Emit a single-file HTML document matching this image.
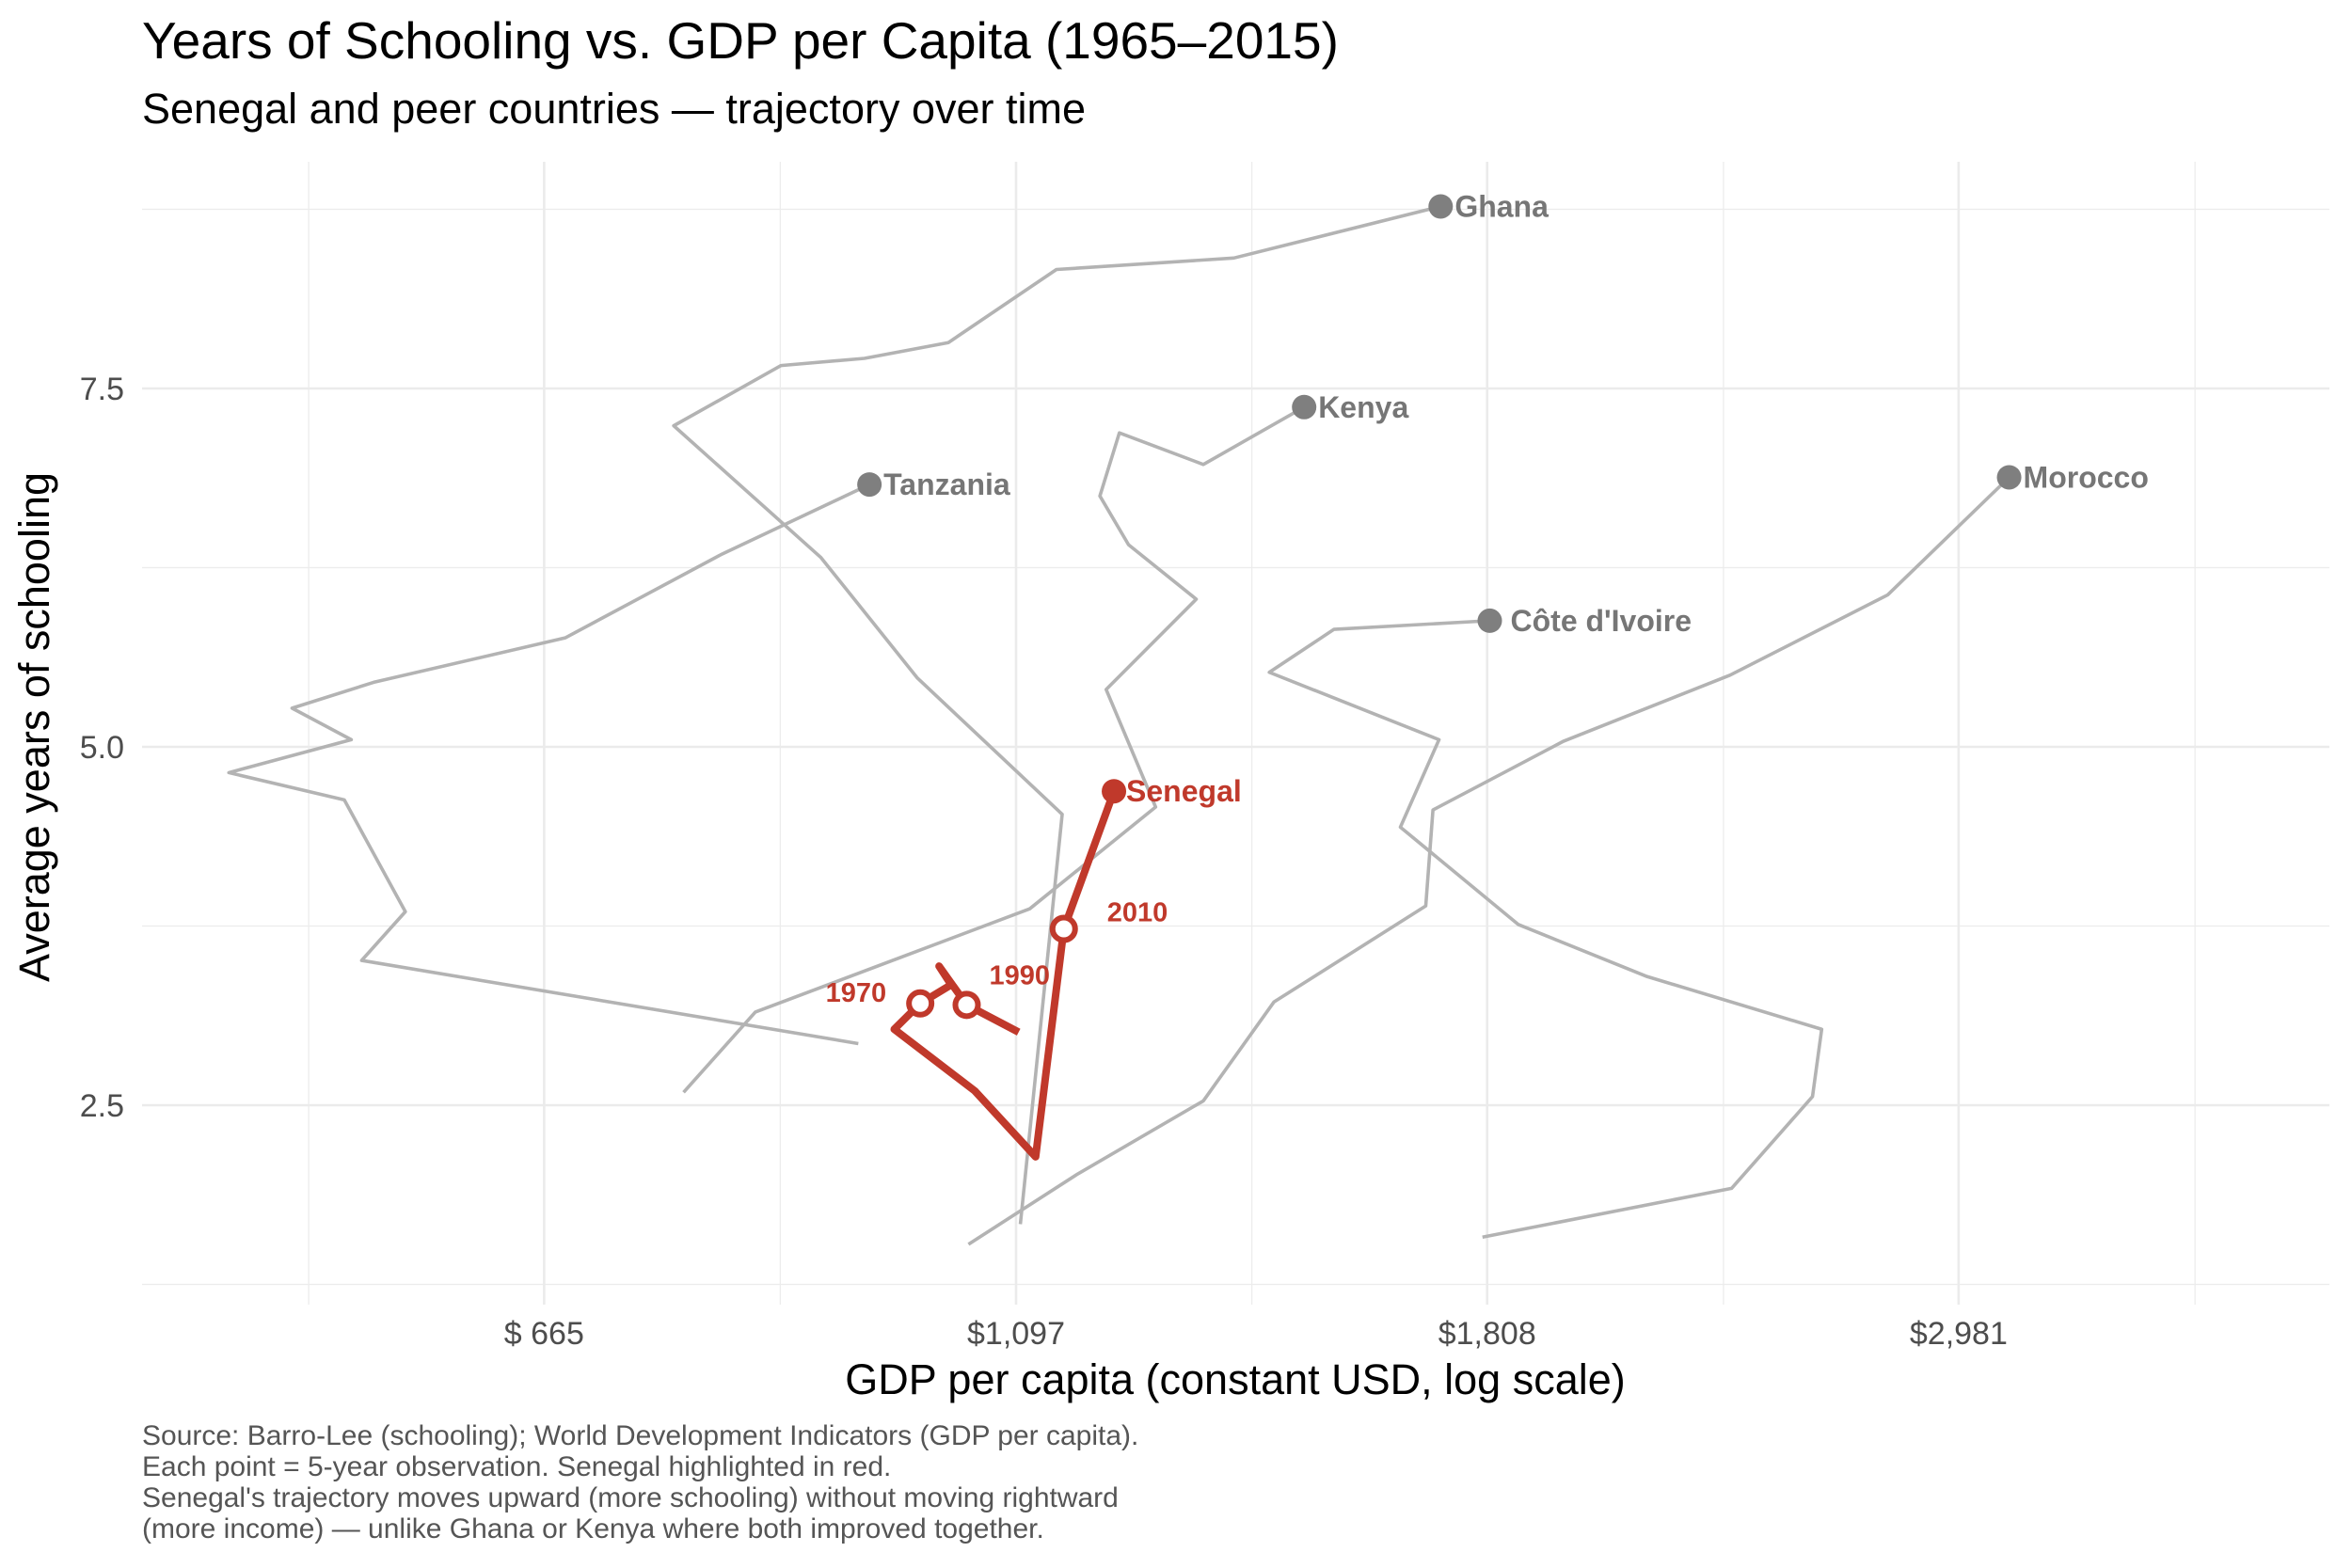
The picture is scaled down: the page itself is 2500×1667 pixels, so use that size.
<!DOCTYPE html>
<html><head><meta charset="utf-8"><style>
body{margin:0;background:#fff}
svg{display:block;font-family:"Liberation Sans",Arial,sans-serif}
</style></head><body>
<svg id="chart" width="2500" height="1667" viewBox="0 0 2500 1667">
<text x="151" y="62" font-size="55" fill="#000">Years of Schooling vs. GDP per Capita (1965–2015)</text>
<text x="151" y="131" font-size="45" fill="#000">Senegal and peer countries — trajectory over time</text>
<g id="grid"></g>
<g id="series"></g>
<g id="axes"></g>
<text x="1313" y="1482" font-size="45" text-anchor="middle" fill="#000">GDP per capita (constant USD, log scale)</text>
<text transform="translate(52,773) rotate(-90)" font-size="45" text-anchor="middle" fill="#000">Average years of schooling</text>
<g font-size="30" fill="#555">
<text x="151" y="1536">Source: Barro-Lee (schooling); World Development Indicators (GDP per capita).</text>
<text x="151" y="1569">Each point = 5-year observation. Senegal highlighted in red.</text>
<text x="151" y="1602">Senegal's trajectory moves upward (more schooling) without moving rightward</text>
<text x="151" y="1635">(more income) — unlike Ghana or Kenya where both improved together.</text>
</g>
</svg>
<script>
const countryNames = ["Ghana","Kenya","Tanzania","Côte d'Ivoire","Morocco"];
const ghanaGdp = [1102,1152,988,892,763,855,934,1021,1145,1382,1721];
const ghanaSch = [1.67,4.53,5.48,6.32,7.24,7.66,7.71,7.82,8.33,8.41,8.77];
const kenyaGdp = [771,832,1113,1272,1207,1328,1236,1199,1224,1338,1489];
const kenyaSch = [2.59,3.15,3.87,4.58,5.40,6.03,6.41,6.75,7.19,6.97,7.37];
const tanzGdp = [928,548,574,538,476,542,509,555,680,802,939];
const tanzSch = [2.93,3.51,3.85,4.63,4.82,5.05,5.27,5.45,5.76,6.34,6.83];
const civGdp = [1799,2343,2553,2578,2140,1869,1649,1718,1435,1537,1813];
const civSch = [1.58,1.92,2.56,3.03,3.40,3.76,4.44,5.05,5.52,5.82,5.88];
const morGdp = [1043,1171,1338,1442,1694,1707,1961,2339,2765,3145];
const morSch = [1.53,2.02,2.53,3.22,3.89,4.56,5.04,5.50,6.06,6.88];
const senGdp = [1100,1041,1011,1024,991,964,1050,1120,1154,1217];
const senSch = [3.01,3.20,3.47,3.34,3.21,3.03,2.60,2.14,3.73,4.69];
const senMarkIdx = [4,1,8];
const senMarkLabels = ["1970","1990","2010"];
const xTickValues = [665,1097,1808,2981];
const xTickLabels = ["$  665","$1,097","$1,808","$2,981"];
const yTickValues = [2.5,5.0,7.5];
const yTickLabels = ["2.5","5.0","7.5"];

const NS="http://www.w3.org/2000/svg";
const PL=151, PR=2476, PT=172, PB=1387;
function xs(v){return 1080+1002.2*Math.log(v/1097);}
function ys(s){return 794+(5-s)*152.4;}
function mk(tag,attrs,parent){const e=document.createElementNS(NS,tag);for(const k in attrs)e.setAttribute(k,attrs[k]);parent.appendChild(e);return e;}
const grid=document.getElementById('grid'), ser=document.getElementById('series'), axes=document.getElementById('axes');
for(let k=-5;k<=5;k+=2){const x=xs(1097*Math.pow(1.649,k/2));if(x<PL||x>PR)continue;
 const l=mk('line',{x1:x,x2:x,y1:PT,y2:PB,stroke:'#ececec','stroke-width':1.3},grid);
 
 }
for(let s=1.25;s<=9;s+=2.5){const y=ys(s);
 const l=mk('line',{x1:PL,x2:PR,y1:y,y2:y,stroke:'#ececec','stroke-width':1.3},grid);
 
 }
xTickValues.forEach((v,i)=>{const x=xs(v);
 const l=mk('line',{x1:x,x2:x,y1:PT,y2:PB,stroke:'#ebebeb','stroke-width':2.6},grid);
 
 
 const t=mk('text',{x:x,y:1429,'font-size':34,'text-anchor':'middle',fill:'#4d4d4d'},axes);t.textContent=xTickLabels[i];
 
 });
yTickValues.forEach((v,i)=>{const y=ys(v);
 const l=mk('line',{x1:PL,x2:PR,y1:y,y2:y,stroke:'#ebebeb','stroke-width':2.6},grid);
 
 
 const t=mk('text',{x:132,y:y+12,'font-size':34,'text-anchor':'end',fill:'#4d4d4d'},axes);t.textContent=yTickLabels[i];
 
 });
const peers=[[ghanaGdp,ghanaSch],[kenyaGdp,kenyaSch],[tanzGdp,tanzSch],[civGdp,civSch],[morGdp,morSch]];
peers.forEach((p,i)=>{const pts=p[0].map((g,j)=>xs(g)+','+ys(p[1][j])).join(' ');
 const pl=mk('polyline',{points:pts,fill:'none',stroke:'#b3b3b3','stroke-width':3.6,'stroke-linejoin':'round'},ser);
 
 
 const n=p[0].length-1, ex=xs(p[0][n]), ey=ys(p[1][n]);
 const c=mk('circle',{cx:ex,cy:ey,r:13,fill:'#7f7f7f'},ser);
 
 
 const t=mk('text',{x:ex+(i===3?22:15),y:ey+11,'font-size':32,'font-weight':'bold',fill:'#767676'},ser);t.textContent=countryNames[i];
 
 });
const sp=senGdp.map((g,j)=>xs(g)+','+ys(senSch[j])).join(' ');
const sl=mk('polyline',{points:sp,fill:'none',stroke:'#c0392b','stroke-width':8,'stroke-linejoin':'round'},ser);


const offs=[[-36,-2],[24,-22],[46,-8]];
senMarkIdx.forEach((idx,k)=>{const x=xs(senGdp[idx]),y=ys(senSch[idx]);
 const c=mk('circle',{cx:x,cy:y,r:12,fill:'#fff',stroke:'#c0392b','stroke-width':6},ser);
 
 
 const t=mk('text',{x:x+offs[k][0],y:y+offs[k][1],'font-size':29,'font-weight':'bold',fill:'#c0392b','text-anchor':k===0?'end':'start'},ser);t.textContent=senMarkLabels[k];
 
 });
const n=senGdp.length-1, sx=xs(senGdp[n]), sy=ys(senSch[n]);
const se=mk('circle',{cx:sx,cy:sy,r:13,fill:'#c0392b'},ser);


const st=mk('text',{x:sx+13,y:sy+11,'font-size':32,'font-weight':'bold',fill:'#c0392b'},ser);st.textContent='Senegal';


</script>
</body></html>
